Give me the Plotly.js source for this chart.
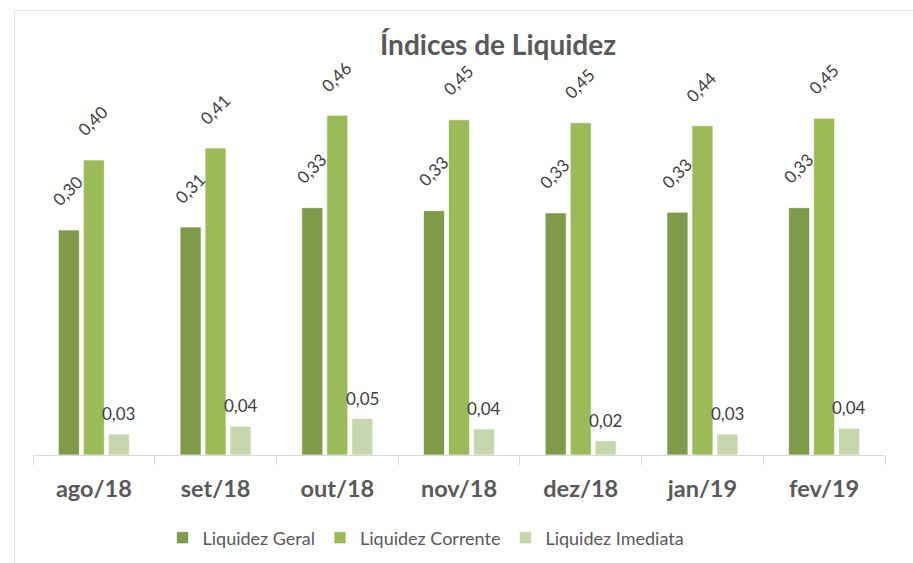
<!DOCTYPE html>
<html>
<head>
<meta charset="utf-8">
<script src="https://cdn.plot.ly/plotly-3.0.1.min.js"></script>
<style>
html,body{margin:0;padding:0;background:#fff;overflow:hidden;}
#chart{width:913px;height:563px;}
</style>
</head>
<body>
<div id="chart"></div>
<script>
const categories = ["ago/18","set/18","out/18","nov/18","dez/18","jan/19","fev/19"];
const liquidezGeral = [0.302,0.306,0.332,0.328,0.325,0.326,0.332];
const liquidezCorrente = [0.396,0.412,0.456,0.450,0.446,0.442,0.452];
const liquidezImediata = [0.028,0.0385,0.049,0.035,0.019,0.028,0.036];
const seriesNames = ["Liquidez Geral","Liquidez Corrente","Liquidez Imediata"];
const titleText = "Índices de Liquidez";

const FONT = "Lato, 'Open Sans', sans-serif";
const colors = ["#7f9a48","#9bbb59","#c6d7ad"];
const allSeries = [liquidezGeral, liquidezCorrente, liquidezImediata];

const bargap = 0.384;
const slot = (1-bargap)/3;

const data = allSeries.map((vals,i)=>({
  type:"bar", x:categories, y:vals, name:seriesNames[i],
  marker:{color:colors[i], line:{color:"rgba(255,255,255,0.7)", width:1}},
  cliponaxis:false, hoverinfo:"skip"
}));

function fmt(v){ return v.toFixed(2).replace(".", ","); }
const annotations = [];
allSeries.forEach((vals,i)=>{
  vals.forEach((v,j)=>{
    const rot = i<2;
    annotations.push({
      x: j + (i-1)*slot, y: v, xref:"x", yref:"y",
      text: fmt(v), showarrow:false,
      textangle: rot ? -45 : 0,
      xanchor:"center", yanchor:"bottom",
      xshift: rot ? -1 : 0, yshift: rot ? 17 : 8,
      font:{family:FONT, size:17, color:"#404040"}
    });
  });
});

const T=50, B=455, L=33, R=885;
const ph = B-T, pw = R-L;
const layout = {
  width:913, height:563,
  margin:{l:L, r:913-R, t:T, b:563-B, pad:0, autoexpand:false},
  paper_bgcolor:"#ffffff", plot_bgcolor:"#ffffff",
  separators:",.",
  barmode:"group", bargap:bargap, bargroupgap:0.158,
  showlegend:true,
  title:{text:"<b>"+titleText+"</b>", x:498/913, xanchor:"center", y:1-45/563, yanchor:"middle",
         font:{family:FONT, size:28, color:"#595959"}},
  xaxis:{type:"category", showline:true, linecolor:"#d9d9d9", linewidth:1,
         automargin:false,
         ticks:"outside", tickson:"boundaries", ticklen:9, tickcolor:"#d9d9d9",
         ticklabelstandoff:13,
         tickfont:{family:FONT, size:23.5, color:"#595959", weight:"bold"},
         showgrid:false, zeroline:false, fixedrange:true},
  yaxis:{range:[0, ph/745], visible:false, showgrid:false, zeroline:false, fixedrange:true, automargin:false},
  legend:{orientation:"h", xref:"container", yref:"container",
          x:426/913, xanchor:"center", y:1-538/563, yanchor:"middle",
          font:{family:FONT, size:18, color:"#595959"}, itemclick:false, itemdoubleclick:false},
  annotations: annotations,
  shapes:[{type:"rect", xref:"paper", yref:"paper",
           x0:(14.5-L)/pw, x1:3, y0:(B-10.5)/ph, y1:-3,
           line:{color:"#e8e6da", width:1}, fillcolor:"rgba(0,0,0,0)", layer:"below"}]
};
Plotly.newPlot("chart", data, layout, {displayModeBar:false, staticPlot:true});
</script>
</body>
</html>
